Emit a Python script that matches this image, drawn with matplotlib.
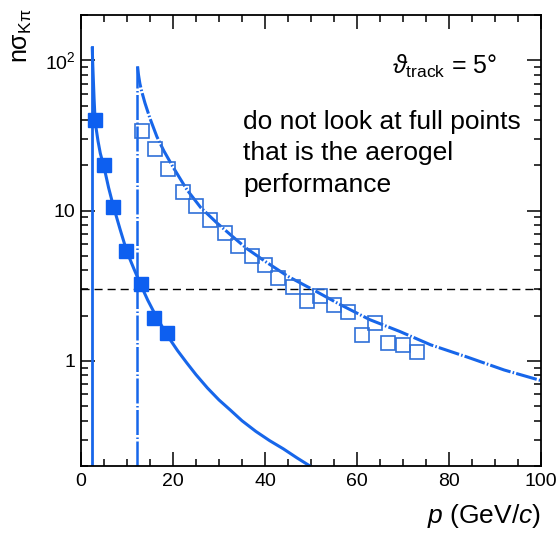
import matplotlib
matplotlib.use("Agg")
import matplotlib.pyplot as plt
from matplotlib.ticker import FixedLocator, MultipleLocator, LogLocator, NullFormatter, FixedFormatter

""" SETTINGS """
plt.rcParams['font.family'] = ['Liberation Sans', 'DejaVu Sans']
plt.rcParams['mathtext.fontset'] = 'custom'
plt.rcParams['mathtext.rm'] = 'Liberation Sans'
plt.rcParams['mathtext.it'] = 'Liberation Sans:italic'

BLUE = '#0d5ff0'
BLUE_LINE = '#1766ea'
BLUE_OPEN = '#2f6fd8'

""" DATA """
# full points (aerogel)
p_full = [3.0, 5.0, 7.0, 9.8, 13.0, 15.9, 18.7]
n_full = [40, 20, 10.6, 5.4, 3.25, 1.94, 1.54]

# open points (gas)
p_open = [13.2, 16.1, 19.0, 22.2, 25.1, 28.0, 31.2, 34.2, 37.1, 40.0, 42.8,
          46.1, 49.1, 52.0, 55.0, 58.0, 61.1, 63.9, 66.7, 70.0, 73.0]
n_open = [33.8, 25.5, 19.0, 13.2, 10.8, 8.7, 7.1, 5.78, 4.96, 4.37, 3.58,
          3.11, 2.51, 2.71, 2.36, 2.12, 1.49, 1.79, 1.32, 1.28, 1.15]

# expected separation curve, aerogel
p_aero = [2.45, 2.55, 2.7, 2.85, 3.0, 3.3, 3.7, 4.2, 5.0, 6.0, 7.0, 8.5, 10,
          11.5, 13, 14.5, 16, 17.5, 19, 21, 23, 25, 27.5, 30, 32.5, 35, 38,
          41, 44, 47, 50]
n_aero = [120, 95, 72, 55, 44, 35, 29, 24, 19.5, 14.2, 10.8, 7.5, 5.3,
          4.1, 3.2, 2.54, 2.07, 1.72, 1.44, 1.17, 0.97, 0.81, 0.66, 0.55,
          0.47, 0.40, 0.34, 0.295, 0.26, 0.226, 0.198]

# expected separation curve, gas
p_gas = [12.3, 12.5, 12.8, 13.2, 13.9, 15, 16.5, 18, 20, 23, 26, 29.5, 33,
         36, 40, 45, 50.5, 56, 62.8, 69.3, 76, 84, 92, 100]
n_gas = [91, 80, 70, 62, 52, 41, 31, 25, 19.5, 13.8, 10.5, 8.3, 6.7, 5.6,
         4.6, 3.65, 2.97, 2.4, 1.88, 1.57, 1.28, 1.06, 0.87, 0.74]

# thresholds and 3 sigma level
p_thr_aero = 2.4
p_thr_gas = 12.2
n_top_aero = 122
n_top_gas = 91
n_level = 3

x_ticks = [0, 20, 40, 60, 80, 100]
y_ticks = [1, 10, 100]
y_labels = ['1', '10', r'10$^{\mathrm{2}}$']

""" PLOT """
fig = plt.figure(figsize=(5.59, 5.35), dpi=100)
ax = fig.add_axes([81 / 559, 69 / 535, 460 / 559, 451 / 535])
ax.set_yscale('log')
ax.set_xlim(0, 100)
ax.set_ylim(0.2, 200)

ax.axhline(n_level, color='black', lw=1.0, dashes=(5.8, 3.6))

ax.plot([p_thr_aero, p_thr_aero], [0.2, n_top_aero], color=BLUE_LINE, lw=2.0)
ax.plot([p_thr_gas, p_thr_gas], [0.2, n_top_gas], color=BLUE_LINE, lw=1.8,
        dashes=(10, 1.0, 0.6, 1.0))

ax.plot(p_aero, n_aero, color=BLUE_LINE, lw=2.2)
ax.plot(p_gas, n_gas, color=BLUE_LINE, lw=2.2, dashes=(7, 0.7, 0.5, 0.7))

ax.plot(p_open, n_open, 's', ms=10, mfc='none', mec=BLUE_OPEN, mew=1.2)
ax.plot(p_full, n_full, 's', ms=9.6, color=BLUE, mec=BLUE)

# axes in ROOT style
ax.xaxis.set_major_locator(FixedLocator(x_ticks))
ax.xaxis.set_minor_locator(MultipleLocator(5))
ax.yaxis.set_major_locator(FixedLocator(y_ticks))
ax.yaxis.set_major_formatter(FixedFormatter(y_labels))
ax.yaxis.set_minor_locator(LogLocator(base=10, subs=range(2, 10)))
ax.yaxis.set_minor_formatter(NullFormatter())
ax.tick_params(which='both', direction='in', top=True, right=True, width=1.1,
               labelsize=14, colors='black')
ax.tick_params(which='major', length=10)
ax.tick_params(which='minor', length=5)
ax.tick_params(axis='x', pad=5)
ax.tick_params(axis='y', pad=4)
for s in ax.spines.values():
    s.set_linewidth(1.3)

ax.set_xlabel(r'$p$ (GeV/$c$)', fontsize=19, loc='right', labelpad=9)
fig.text(0.04, 0.985, r'n$\mathrm{\sigma_{K\pi}}$', rotation=90, fontsize=18,
         ha='center', va='top')

ax.text(0.675, 0.885, r'$\vartheta_{\mathrm{track}}$ = 5°', transform=ax.transAxes,
        fontsize=18, ha='left', va='center')
ax.text(0.352, 0.79, 'do not look at full points\nthat is the aerogel\nperformance',
        transform=ax.transAxes, fontsize=19, ha='left', va='top', linespacing=1.4)

fig.savefig('out.png', dpi=100)
